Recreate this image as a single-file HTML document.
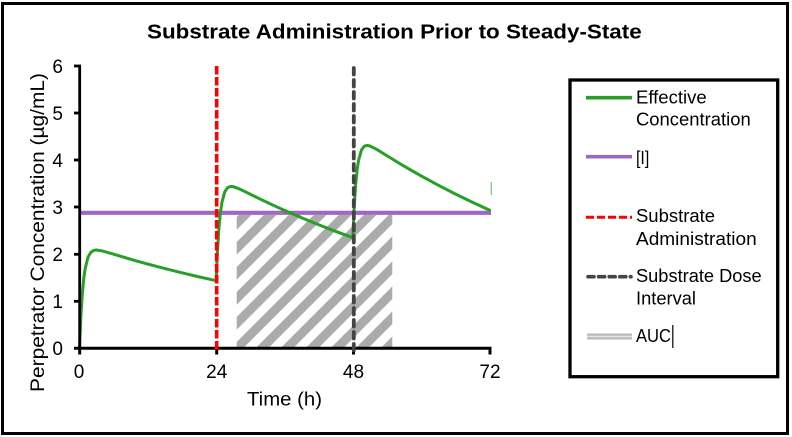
<!DOCTYPE html>
<html>
<head>
<meta charset="utf-8">
<style>
  html, body { margin:0; padding:0; background:#fff; }
  body { width:792px; height:437px; overflow:hidden; }
  svg { display:block; }
  text { font-family: "Liberation Sans", "DejaVu Sans", sans-serif; fill:#000; }
</style>
</head>
<body>
<svg width="792" height="437" viewBox="0 0 792 437" xmlns="http://www.w3.org/2000/svg">
  <defs>
    <pattern id="hatch" patternUnits="userSpaceOnUse" width="17.678" height="20" patternTransform="rotate(45)">
      <rect x="2.6" y="0" width="9" height="20" fill="#ababab"/>
    </pattern>
  </defs>

  <!-- outer border -->
  <rect x="2.5" y="3.5" width="785" height="430" fill="#fff" stroke="#000" stroke-width="3"/>

  <!-- title -->
  <text x="147" y="38.3" font-size="20.5" font-weight="bold" textLength="494.7" lengthAdjust="spacingAndGlyphs">Substrate Administration Prior to Steady-State</text>

  <!-- AUC hatch -->
  <rect x="236.7" y="215" width="155.6" height="133" fill="url(#hatch)"/>

  <!-- [I] line -->
  <line x1="79.5" y1="212.8" x2="491" y2="212.8" stroke="#a066c0" stroke-width="4.2"/>

  <!-- effective concentration -->
  <path fill="none" stroke="#28a028" stroke-width="3" stroke-linejoin="round" stroke-linecap="round"
    d="M79.5,347.7 L80.92,315.5 L82.35,293.55 L83.77,278.6 L85.19,268.46 L88.04,257.11 L90.89,252.24 L93.74,250.42 L96.58,250.04 L102.28,250.95 L107.97,252.53 L113.67,254.21 L125.06,257.61 L136.44,260.88 L147.83,264.04 L164.92,268.55 L182,272.82 L199.08,276.86 L216.17,280.69
    L217.59,248.82 L219.02,227.16 L220.44,212.51 L221.86,202.69 L224.71,191.94 L227.56,187.67 L230.41,186.44 L233.25,186.66 L238.95,188.72 L244.64,191.44 L250.34,194.24 L261.73,199.82 L273.11,205.19 L284.5,210.37 L301.59,217.78 L318.67,224.79 L335.75,231.42 L352.84,237.71
    L354.26,206.03 L355.69,184.57 L357.11,170.12 L358.53,160.49 L361.38,150.13 L364.23,146.24 L367.08,145.4 L369.92,145.99 L375.62,148.81 L381.31,152.25 L387.01,155.78 L398.4,162.75 L409.78,169.47 L421.17,175.95 L438.26,185.21 L455.34,193.98 L472.42,202.27 L489.51,210.14"/>

  <!-- small green artifact -->
  <line x1="491.3" y1="182" x2="491.3" y2="195" stroke="#28a028" stroke-width="1.3" opacity="0.6"/>

  <!-- axes -->
  <line x1="79.7" y1="66" x2="79.7" y2="349.6" stroke="#000" stroke-width="2.8"/>
  <line x1="74" y1="348.3" x2="491.5" y2="348.3" stroke="#000" stroke-width="3"/>
  <!-- y ticks -->
  <g stroke="#000" stroke-width="2.8">
    <line x1="74" y1="66" x2="81" y2="66"/>
    <line x1="74" y1="113" x2="81" y2="113"/>
    <line x1="74" y1="160" x2="81" y2="160"/>
    <line x1="74" y1="207" x2="81" y2="207"/>
    <line x1="74" y1="254.3" x2="81" y2="254.3"/>
    <line x1="74" y1="301.3" x2="81" y2="301.3"/>
  </g>
  <!-- x ticks -->
  <g stroke="#000" stroke-width="3">
    <line x1="79.7" y1="347" x2="79.7" y2="354.5"/>
    <line x1="216.7" y1="347" x2="216.7" y2="354.5"/>
    <line x1="353.5" y1="347" x2="353.5" y2="354.5"/>
    <line x1="490" y1="347" x2="490" y2="354.5"/>
  </g>

  <!-- substrate administration (red dashed) -->
  <line x1="216.7" y1="66" x2="216.7" y2="351" stroke="#ff0000" stroke-width="3.6" stroke-dasharray="8.5,2.5"/>
  <!-- substrate dose interval (dark gray dashed) -->
  <line x1="353.8" y1="68" x2="353.8" y2="354" stroke="#444444" stroke-width="3.8" stroke-linecap="round" stroke-dasharray="6.5,5.5"/>

  <!-- y tick labels -->
  <g font-size="19" text-anchor="end">
    <text x="63" y="73">6</text>
    <text x="63" y="120">5</text>
    <text x="63" y="167">4</text>
    <text x="63" y="214">3</text>
    <text x="63" y="261">2</text>
    <text x="63" y="308">1</text>
    <text x="63" y="355">0</text>
  </g>
  <!-- x tick labels -->
  <g font-size="19" text-anchor="middle">
    <text x="79" y="378">0</text>
    <text x="216.7" y="378">24</text>
    <text x="353.5" y="378">48</text>
    <text x="490" y="378">72</text>
  </g>

  <!-- axis titles -->
  <text x="247" y="405.5" font-size="19" textLength="75" lengthAdjust="spacingAndGlyphs">Time (h)</text>
  <text transform="translate(44,232.5) rotate(-90)" x="0" y="0" font-size="19.5" text-anchor="middle" textLength="319" lengthAdjust="spacingAndGlyphs">Perpetrator Concentration (µg/mL)</text>

  <!-- legend -->
  <rect x="570" y="80" width="207.7" height="296.7" fill="#fff" stroke="#000" stroke-width="3.3"/>
  <line x1="586" y1="97.7" x2="632" y2="97.7" stroke="#28a028" stroke-width="3.7"/>
  <line x1="586" y1="156.7" x2="632" y2="156.7" stroke="#a066c0" stroke-width="3.7"/>
  <line x1="586" y1="217.3" x2="632" y2="217.3" stroke="#ff0000" stroke-width="3" stroke-dasharray="8,3"/>
  <line x1="588" y1="276.7" x2="631" y2="276.7" stroke="#444444" stroke-width="3.6" stroke-linecap="round" stroke-dasharray="6,4.6"/>
  <rect x="587" y="333.5" width="45" height="6" fill="#b8b8b8"/>
  <line x1="587" y1="336.5" x2="632" y2="336.5" stroke="#e6e6e6" stroke-width="1.4"/>

  <g font-size="18">
    <text x="636" y="103.5" textLength="70.7" lengthAdjust="spacingAndGlyphs">Effective</text>
    <text x="636" y="125.5" textLength="114.7" lengthAdjust="spacingAndGlyphs">Concentration</text>
    <text x="636" y="164" textLength="13.3" lengthAdjust="spacingAndGlyphs">[I]</text>
    <text x="636" y="222" textLength="79" lengthAdjust="spacingAndGlyphs">Substrate</text>
    <text x="636" y="245" textLength="120.7" lengthAdjust="spacingAndGlyphs">Administration</text>
    <text x="636" y="282" textLength="125.7" lengthAdjust="spacingAndGlyphs">Substrate Dose</text>
    <text x="636" y="304.5" textLength="60" lengthAdjust="spacingAndGlyphs">Interval</text>
    <text x="636" y="342" textLength="35" lengthAdjust="spacingAndGlyphs">AUC</text>
  </g>
  <line x1="672.8" y1="325" x2="672.8" y2="348" stroke="#000" stroke-width="1.2"/>
</svg>
</body>
</html>
